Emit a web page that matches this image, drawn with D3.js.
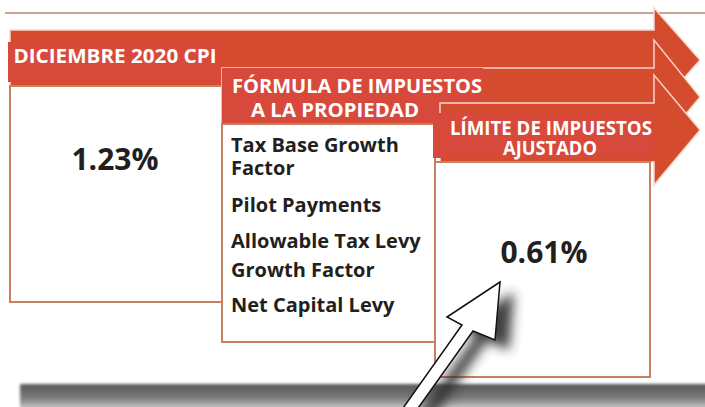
<!DOCTYPE html>
<html>
<head>
<meta charset="utf-8">
<script src="https://cdn.jsdelivr.net/npm/d3@7"></script>
<style>
  body { margin: 0; background: #fff; }
  svg text { font-family: 'Open Sans', sans-serif; font-weight: 700; }
</style>
</head>
<body>
<div id="chart"></div>
<script>
// content of the three stages
const stageTitles = [
  ['DICIEMBRE 2020 CPI'],
  ['FÓRMULA DE IMPUESTOS', 'A LA PROPIEDAD'],
  ['LÍMITE DE IMPUESTOS', 'AJUSTADO']
]
const stageValues = ['1.23%', null, '0.61%']
const formulaFactors = [
  ['Tax Base Growth', 'Factor'],
  ['Pilot Payments'],
  ['Allowable Tax Levy', 'Growth Factor'],
  ['Net Capital Levy']
]

const width = 705
const height = 407

const red = '#d44b2e'
const labelRed = '#d74a3b'
const border = '#c8805f'
const ink = '#231f20'

// layout of each stage (arrow band, title box, content box)
const layout = [
  { x0: 10, y0: 30, y1: 90, headTop: 8, tip: 60, headBot: 112,
    label: [8, 42, 214, 40], titleX: [115], titleY: [63], titleW: [203],
    box: [10, 86, 212, 216], valueX: 115, valueY: 170 },
  { x0: 222, y0: 68, y1: 125, headTop: 40, tip: 97, headBot: 152,
    label: [222, 68, 261, 56], titleX: [357, 335], titleY: [93, 117], titleW: [250, 168],
    box: [222, 124, 213, 218] },
  { x0: 440, y0: 103, y1: 162, headTop: 75, tip: 130, headBot: 185,
    label: [433, 113, 220, 45], titleX: [551, 550], titleY: [135, 155], titleW: [202, 94],
    box: [435, 162, 215, 215], valueX: 544, valueY: 263 }
]
const headX = 654
const tipX = 700

const svg = d3.select('#chart')
  .append('svg')
  .attr('width', width)
  .attr('height', height)

const defs = svg.append('defs')
const grad = defs.append('linearGradient')
  .attr('id', 'barGrad').attr('x1', 0).attr('y1', 0).attr('x2', 0).attr('y2', 1)
grad.append('stop').attr('offset', '0%').attr('stop-color', '#575757')
grad.append('stop').attr('offset', '55%').attr('stop-color', '#7c7c7c')
grad.append('stop').attr('offset', '100%').attr('stop-color', '#d4d4d4')

defs.append('filter').attr('id', 'soft')
  .attr('x', '-20%').attr('y', '-50%').attr('width', '140%').attr('height', '200%')
  .append('feGaussianBlur').attr('stdDeviation', 1.5)
defs.append('filter').attr('id', 'blur')
  .attr('x', '-50%').attr('y', '-50%').attr('width', '200%').attr('height', '200%')
  .append('feGaussianBlur').attr('stdDeviation', 6)

// thin rule on top
svg.append('line')
  .attr('x1', 5).attr('x2', width).attr('y1', 13).attr('y2', 13)
  .attr('stroke', '#b98573').attr('stroke-width', 1.5)

// bottom shadow bar
svg.append('rect')
  .attr('x', 20).attr('y', 384).attr('width', width).attr('height', 26)
  .attr('fill', 'url(#barGrad)')
  .attr('filter', 'url(#soft)')

const arrowPath = d => {
  const p = d3.path()
  p.moveTo(d.x0, d.y0)
  p.lineTo(headX, d.y0)
  p.lineTo(headX, d.headTop)
  p.lineTo(tipX, d.tip)
  p.lineTo(headX, d.headBot)
  p.lineTo(headX, d.y1)
  p.lineTo(d.x0, d.y1)
  p.closePath()
  return p.toString()
}

const stage = svg.selectAll('g.stage')
  .data(layout)
  .join('g')
  .attr('class', 'stage')

stage.append('path')
  .attr('d', arrowPath)
  .attr('fill', red)
  .attr('stroke', '#f6d6c8')
  .attr('stroke-width', 1.5)

stage.append('rect')
  .attr('x', d => d.label[0]).attr('y', d => d.label[1])
  .attr('width', d => d.label[2]).attr('height', d => d.label[3])
  .attr('fill', labelRed)

stage.each(function(d, i) {
  d3.select(this).selectAll('text.title')
    .data(stageTitles[i])
    .join('text')
    .attr('class', 'title')
    .attr('x', (t, j) => d.titleX[j])
    .attr('y', (t, j) => d.titleY[j])
    .attr('text-anchor', 'middle')
    .attr('fill', '#fff')
    .attr('font-size', 19)
    .attr('textLength', (t, j) => d.titleW[j])
    .attr('lengthAdjust', 'spacingAndGlyphs')
    .text(t => t)
})

stage.append('rect')
  .attr('x', d => d.box[0]).attr('y', d => d.box[1])
  .attr('width', d => d.box[2]).attr('height', d => d.box[3])
  .attr('fill', '#fff')
  .attr('stroke', border)
  .attr('stroke-width', 2)

stage.filter((d, i) => stageValues[i] !== null)
  .append('text')
  .attr('x', d => d.valueX)
  .attr('y', d => d.valueY)
  .attr('text-anchor', 'middle')
  .attr('fill', ink)
  .attr('font-size', 30)
  .text(d => stageValues[layout.indexOf(d)])

// factors listed inside the formula box
const factorTop = [152, 212, 248, 312]
const factorGap = [23, 23, 29, 23]
const factorG = svg.append('g')
  .attr('transform', 'translate(231,0)')
formulaFactors.forEach((lines, i) => {
  factorG.selectAll(null)
    .data(lines)
    .join('text')
    .attr('x', 0)
    .attr('y', (t, j) => factorTop[i] + j * factorGap[i])
    .attr('fill', ink)
    .attr('font-size', 20)
    .text(t => t)
})

// pointer arrow with soft shadow
const pointer = [[500, 282], [447, 317], [462, 325], [391, 425], [406, 425], [473, 331], [495, 340]]
svg.append('polygon')
  .attr('points', pointer.map(p => [p[0] + 14, p[1] + 10].join(',')).join(' '))
  .attr('fill', '#2a2a2a')
  .attr('opacity', 0.9)
  .attr('filter', 'url(#blur)')
svg.append('polygon')
  .attr('points', pointer.map(p => p.join(',')).join(' '))
  .attr('fill', '#fff')
  .attr('stroke', '#111')
  .attr('stroke-width', 1.5)
  .attr('stroke-linejoin', 'miter')
</script>
</body>
</html>
